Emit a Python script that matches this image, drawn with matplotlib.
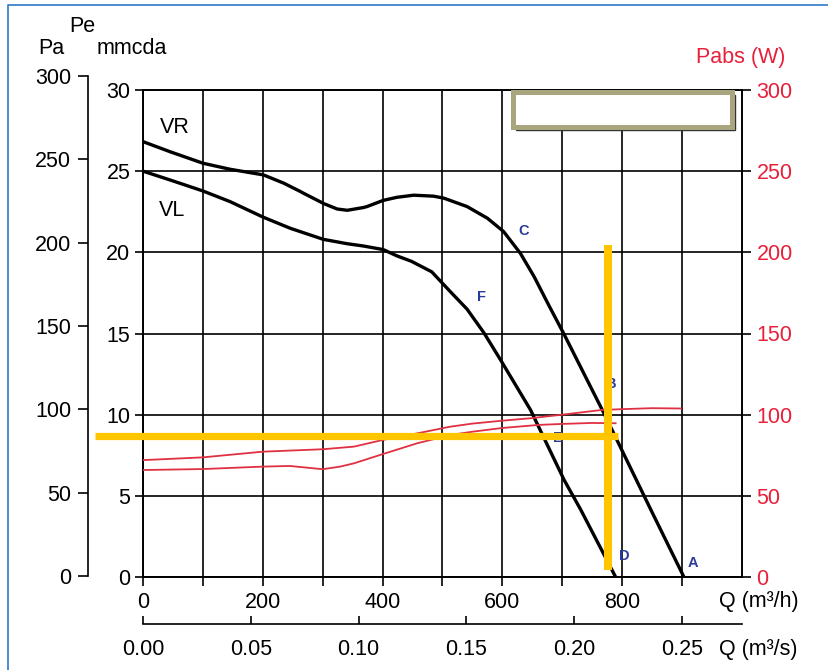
"""
Fan performance chart: static pressure (Pa / mmcda) and absorbed power (W)
against air flow Q, with curves VR / VL and the marked operating point.
Saves out.png (829 x 670 px).
"""
import matplotlib
matplotlib.use("Agg")
import matplotlib.pyplot as plt
from matplotlib.lines import Line2D
from matplotlib.patches import Rectangle

plt.rcParams["font.family"] = ["Liberation Sans", "DejaVu Sans"]

# ---- data (Q in m3/h, pressure in mmcda, power in W) ----
VR_Q = [0, 45, 100, 145, 201, 235, 263, 268, 302, 324, 341, 368, 374, 401,
        424, 452, 485, 502, 541, 575, 602, 630, 653, 678, 703, 770, 848, 903]
VR_P = [26.82, 26.2, 25.49, 25.12, 24.77, 24.26, 23.74, 23.64, 23.0, 22.67,
        22.59, 22.76, 22.82, 23.2, 23.39, 23.52, 23.46, 23.34, 22.82, 22.1,
        21.28, 19.94, 18.5, 16.7, 14.95, 10.05, 4.13, 0.0]

VL_Q = [0, 45, 100, 145, 201, 246, 301, 341, 368, 401, 424, 448, 482, 513,
        541, 569, 597, 647, 703, 731, 789]
VL_P = [25.0, 24.46, 23.78, 23.13, 22.16, 21.48, 20.8, 20.53, 20.39, 20.17,
        19.78, 19.45, 18.8, 17.58, 16.5, 15.05, 13.37, 10.29, 5.98, 4.13, 0.0]

PW_HI_Q = [0, 100, 200, 300, 352, 400, 458, 513, 550, 600, 647, 700, 766,
           800, 850, 898]
PW_HI_W = [72, 73.7, 77.2, 78.7, 80.3, 84.4, 88.5, 92.6, 94.5, 96.3, 97.8,
           100, 102.9, 103.4, 104, 103.8]

PW_LO_Q = [0, 100, 200, 245, 300, 329, 352, 401, 458, 480, 513, 550, 600,
           661, 700, 750, 789]
PW_LO_W = [65.9, 66.5, 68, 68.4, 66.4, 68, 70, 75.8, 82.4, 84.4, 87.5, 89.5,
           91.8, 93.7, 94.3, 94.9, 94.7]

POINT_LABELS = ["C", "F", "B", "E", "D", "A"]
POINT_Q = [635, 565, 781, 692, 804, 918]
POINT_P = [21.3, 17.25, 11.9, 8.56, 1.3, 0.86]

# operating point marked with the yellow cross-hair
OP_Q = 777
OP_P = 8.71

Q_TICKS = list(range(0, 1000, 100))
Q_LABELS = ["0", "", "200", "", "400", "", "600", "", "800", ""]
QS_TICKS = [0.00, 0.05, 0.10, 0.15, 0.20, 0.25]
QS_LABELS = ["0.00", "0.05", "0.10", "0.15", "0.20", "0.25"]
MM_TICKS = [0, 5, 10, 15, 20, 25, 30]
PA_TICKS = [0, 50, 100, 150, 200, 250, 300]
W_TICKS = [0, 50, 100, 150, 200, 250, 300]

W, H = 829, 670
RED = "#e8203a"
LINE_RED = "#e03043"
BLUE = "#2b3b9b"
YELLOW = "#ffc600"
FS = 15.5


def fx(px):
    return px / W


def fy(py):
    return 1 - py / H


fig = plt.figure(figsize=(W / 100, H / 100), dpi=100)

# main axes: Q (m3/h) vs mmcda
ax = fig.add_axes([fx(143), fy(577), fx(742) - fx(143), fy(90) - fy(577)])
ax.set_xlim(0, 1000)
ax.set_ylim(0, 30)
ax.set_xticks(Q_TICKS)
ax.set_xticklabels(Q_LABELS)
ax.set_yticks(MM_TICKS)
ax.grid(True, color="black", lw=1.2)
ax.set_axisbelow(True)
for s in ax.spines.values():
    s.set_linewidth(1.2)
ax.tick_params(axis="x", direction="out", length=6.5, width=1.2,
               labelsize=FS, pad=4)
ax.tick_params(axis="y", direction="out", length=6, width=1.2,
               labelsize=FS, pad=3)

ax.plot(VR_Q, VR_P, color="black", lw=2.4, solid_joinstyle="round",
        solid_capstyle="round", zorder=3)
ax.plot(VL_Q, VL_P, color="black", lw=2.4, solid_joinstyle="round",
        solid_capstyle="round", zorder=3)
ax.text(53, 27.7, "VR", fontsize=FS, ha="center", va="center")
ax.text(48, 22.6, "VL", fontsize=FS, ha="center", va="center")
for lab, q, p in zip(POINT_LABELS, POINT_Q, POINT_P):
    ax.text(q, p, lab, fontsize=10.5, fontweight="bold", color=BLUE,
            ha="center", va="center", zorder=4)

# right axis: absorbed power (W)
ax2 = ax.twinx()
ax2.set_ylim(0, 300)
ax2.set_yticks(W_TICKS)
ax2.tick_params(axis="y", direction="out", length=6.5, width=1.2,
                labelsize=FS, labelcolor=RED, pad=4)
for s in ax2.spines.values():
    s.set_linewidth(1.2)
ax2.plot(PW_HI_Q, PW_HI_W, color=LINE_RED, lw=1.3, zorder=3)
ax2.plot(PW_LO_Q, PW_LO_W, color=LINE_RED, lw=1.3, zorder=3)

# yellow cross-hair at the operating point
ax2.plot([-80, OP_Q + 16], [OP_P, OP_P], color=YELLOW, lw=5.2,
         transform=ax.transData, clip_on=False, zorder=6,
         solid_capstyle="butt")
ax2.plot([OP_Q, OP_Q], [0.43, 20.45], color=YELLOW, lw=5.8,
         transform=ax.transData, clip_on=False, zorder=6,
         solid_capstyle="butt")

# empty olive box top right (with a thin dark shadow)
ax2.add_patch(Rectangle((623, 27.55), 365, 2.15, transform=ax.transData,
                        facecolor="none", edgecolor="#333333", lw=1.0,
                        clip_on=False, zorder=6))
ax2.add_patch(Rectangle((618, 27.7), 365, 2.18, transform=ax.transData,
                        facecolor="white", edgecolor="#a9a57e", lw=3.6,
                        clip_on=False, zorder=7))

# left Pa axis
axp = fig.add_axes([fx(88), fy(576), 0.0001, fy(76) - fy(576)])
axp.set_ylim(0, 300)
axp.set_yticks(PA_TICKS)
axp.set_xticks([])
for k in ("right", "top", "bottom"):
    axp.spines[k].set_visible(False)
axp.spines["left"].set_linewidth(1.2)
axp.patch.set_visible(False)
axp.tick_params(axis="y", direction="out", length=7, width=1.2,
                labelsize=FS, pad=5)

# second Q axis in m3/s
axs = fig.add_axes([fx(143), fy(624), fx(742) - fx(143), 0.0001])
axs.set_xlim(0, 1000 / 3600)
axs.set_xticks(QS_TICKS)
axs.set_xticklabels(QS_LABELS)
axs.set_yticks([])
for k in ("right", "top", "left"):
    axs.spines[k].set_visible(False)
axs.spines["bottom"].set_linewidth(1.2)
axs.patch.set_visible(False)
axs.tick_params(axis="x", direction="in", length=6, width=1.2,
                labelsize=FS, pad=11)

# axis titles
fig.text(fx(82), fy(26), "Pe", fontsize=FS, ha="center", va="center")
fig.text(fx(51), fy(49), "Pa", fontsize=FS, ha="center", va="center")
fig.text(fx(132), fy(49), "mmcda", fontsize=FS, ha="center", va="center")
fig.text(fx(741), fy(58), "Pabs (W)", fontsize=FS, ha="center",
         va="center", color=RED)
fig.text(fx(719), fy(602), "Q (m³/h)", fontsize=FS, ha="left", va="center")
fig.text(fx(719), fy(650), "Q (m³/s)", fontsize=FS, ha="left", va="center")

# thin blue frame (left and top edges visible)
fig.add_artist(Line2D([fx(8), fx(8), 1.0], [0.0, fy(5), fy(5)],
                      color="#3f82cc", lw=1.3))

fig.savefig("out.png", dpi=100, facecolor="white")
